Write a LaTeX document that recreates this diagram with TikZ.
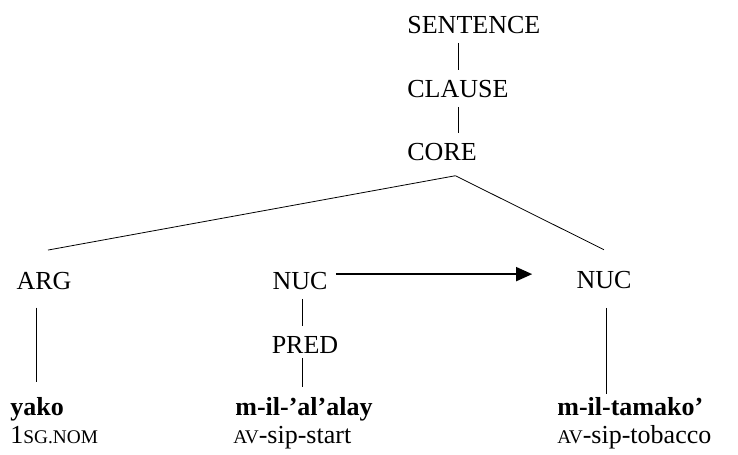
\documentclass[tikz,border=0pt]{standalone}
\usepackage{fontspec}
\setmainfont{Liberation Serif}
\usetikzlibrary{arrows.meta}

% fake small caps for the gloss line
\newcommand{\glsc}[1]{{\fontsize{14.5}{16}\selectfont #1}}

\tikzset{every picture/.style={line width=0.6pt}}
\tikzset{
  lbl/.style={inner xsep=0pt, inner ysep=7pt, font=\fontsize{19.5}{21}\selectfont},
  branch/.style={line width=0.6pt},
  linkarrow/.style={-{Triangle[length=12pt,width=10.5pt]}, line width=1.25pt},
}

\begin{document}
\begin{tikzpicture}[x=0.75pt,y=0.75pt,yscale=-1,xscale=1]
\useasboundingbox (0,0) rectangle (738,454);

% Text Node
\node [lbl, anchor=base west] (sentence) at (407,33) {SENTENCE};
% Text Node
\node [lbl, anchor=base west] (clause) at (407,97) {CLAUSE};
% Text Node
\node [lbl, anchor=base west] (core) at (407,160) {CORE};
% Text Node
\node [lbl, anchor=base] (arg) at (44,289) {ARG};
% Text Node
\node [lbl, anchor=base] (nuca) at (300,289) {NUC};
% Text Node
\node [lbl, anchor=base] (pred) at (305,353) {PRED};
% Text Node
\node [lbl, anchor=base] (nucb) at (604,288) {NUC};

% Text Node
\node [lbl, anchor=base west] (yako) at (10,415) {\textbf{yako}};
\node [lbl, anchor=base west] (yakogl) at (10,443) {1\glsc{SG.NOM}};
% Text Node
\node [lbl, anchor=base west] (alalay) at (235,415) {\textbf{m-il-’al’alay}};
\node [lbl, anchor=base west] (alalaygl) at (233,443) {\glsc{AV}-sip-start};
% Text Node
\node [lbl, anchor=base west] (tamako) at (557,415) {\textbf{m-il-tamako’}};
\node [lbl, anchor=base west] (tamakogl) at (557,443) {\glsc{AV}-sip-tobacco};

%Straight Lines
\draw [branch] (clause.north |- sentence.south) -- (clause.north);
\draw [branch] (clause.south) -- (clause.south |- core.north);
%Straight Lines
\draw [branch] ([xshift=10pt,yshift=4.3pt]core.south) -- ([xshift=3pt,yshift=-9pt]arg.north);
\draw [branch] ([xshift=10pt,yshift=4.3pt]core.south) -- ([yshift=-8.5pt]nucb.north);
%Straight Lines
\draw [branch, shorten <=6.5pt, shorten >=3.75pt] ([xshift=-6pt]arg.south) -- ([xshift=-6pt]arg.south |- yako.north);
\draw [branch] ([xshift=1.5pt]nuca.south) -- ([xshift=1.5pt]nuca.south |- pred.north);
\draw [branch, shorten <=-3.75pt] ([xshift=1.5pt]nuca.south |- pred.south) -- ([xshift=1.5pt]nuca.south |- alalay.north);
\draw [branch, shorten <=7.5pt, shorten >=-5pt] ([xshift=1.5pt]nucb.south) -- ([xshift=1.5pt]nucb.south |- tamako.north);
%Arrow
\draw [linkarrow, shorten <=6pt, shorten >=33pt] ([yshift=-4.8pt]nuca.east) -- ([yshift=-4.8pt]nuca.east -| nucb.west);

\end{tikzpicture}
\end{document}
